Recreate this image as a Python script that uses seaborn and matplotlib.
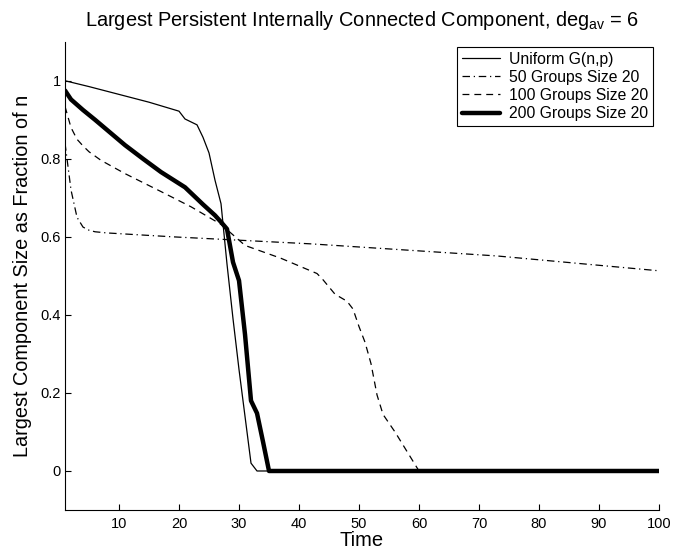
import pandas as pd
import matplotlib
matplotlib.use('Agg')
import matplotlib.pyplot as plt
import seaborn as sns

# Values (time, fraction of n)
uniform_t = [1, 5, 10, 15, 20, 21, 23, 24, 25, 26, 27, 28, 29, 30, 31, 32, 33, 100]
uniform_v = [1.0, 0.985, 0.965, 0.945, 0.922, 0.902, 0.887, 0.855, 0.815, 0.745,
             0.685, 0.53, 0.39, 0.26, 0.14, 0.02, 0.0, 0.0]

g50_t = [1, 2, 3, 4, 5, 6, 8, 19, 42, 73, 100]
g50_v = [0.84, 0.72, 0.65, 0.625, 0.617, 0.613, 0.61, 0.60, 0.582, 0.551, 0.513]

g100_t = [1, 2, 3, 4, 5, 7, 11, 17, 22, 27, 31, 37, 43, 44, 46, 48, 49, 50, 51,
          52, 53, 54, 56, 58, 59, 60, 100]
g100_v = [0.934, 0.88, 0.85, 0.833, 0.818, 0.796, 0.762, 0.716, 0.677, 0.632,
          0.578, 0.545, 0.506, 0.49, 0.453, 0.435, 0.415, 0.37, 0.33, 0.275,
          0.195, 0.145, 0.10, 0.05, 0.025, 0.0, 0.0]

g200_t = [1, 2, 4, 6, 9, 11, 14, 17, 21, 24, 26, 27, 28, 29, 30, 31, 32, 33, 34, 35, 100]
g200_v = [0.975, 0.952, 0.925, 0.9, 0.861, 0.835, 0.8, 0.766, 0.727, 0.683, 0.655,
          0.638, 0.62, 0.535, 0.488, 0.35, 0.18, 0.148, 0.075, 0.0, 0.0]

labels = ['Uniform G(n,p)', '50 Groups Size 20', '100 Groups Size 20', '200 Groups Size 20']
x_ticks = [10, 20, 30, 40, 50, 60, 70, 80, 90, 100]
y_ticks = [0, 0.2, 0.4, 0.6, 0.8, 1]

sns.set_theme(style='white')
plt.rcParams['font.family'] = ['Liberation Sans', 'DejaVu Sans']
plt.rcParams['mathtext.fontset'] = 'custom'
plt.rcParams['mathtext.rm'] = 'Liberation Sans'
plt.rcParams['text.color'] = 'black'
plt.rcParams['axes.labelcolor'] = 'black'

fig = plt.figure(figsize=(6.73, 5.54), dpi=100)
ax = fig.add_axes([0.0966, 0.0794, 0.8826, 0.8453])

series = [
    (uniform_t, uniform_v, labels[0], '-', 0.9),
    (g50_t, g50_v, labels[1], (0, (6, 3, 1, 3)), 0.9),
    (g100_t, g100_v, labels[2], (0, (5.5, 4)), 0.9),
    (g200_t, g200_v, labels[3], '-', 3.2),
]
for t, v, lab, ls, lw in series:
    df = pd.DataFrame({'Time': t, 'value': v})
    sns.lineplot(data=df, x='Time', y='value', ax=ax, color='black',
                 linestyle=ls, linewidth=lw, label=lab)

ax.set_xlim(1, 100)
ax.set_ylim(-0.1, 1.1)
ax.set_xticks(x_ticks)
ax.set_yticks(y_ticks)
ax.set_yticklabels(['0', '0.2', '0.4', '0.6', '0.8', '1'])
ax.tick_params(direction='in', length=4, width=0.8, colors='black', labelsize=10.5,
               bottom=True, left=True)
ax.tick_params(axis='x', pad=5)
ax.tick_params(axis='y', pad=3)
for side in ['top', 'right']:
    ax.spines[side].set_visible(False)
for side in ['left', 'bottom']:
    ax.spines[side].set_color('black')
    ax.spines[side].set_linewidth(0.8)

ax.set_xlabel('Time', fontsize=14.5, labelpad=0)
ax.set_ylabel('Largest Component Size as Fraction of n', fontsize=14.3, labelpad=6)
ax.set_title(r'Largest Persistent Internally Connected Component, deg$_{\mathrm{av}}$ = 6',
             fontsize=14.4, pad=11)

leg = ax.legend(loc='upper right', bbox_to_anchor=(653 / 673, 1 - 47 / 554),
                bbox_transform=fig.transFigure, borderaxespad=0, fontsize=11.3,
                frameon=True, fancybox=False, edgecolor='black', framealpha=1,
                handlelength=2.4, handletextpad=0.6, labelspacing=0.2, borderpad=0.3)
leg.get_frame().set_linewidth(0.8)

fig.savefig('out.png', dpi=100)
